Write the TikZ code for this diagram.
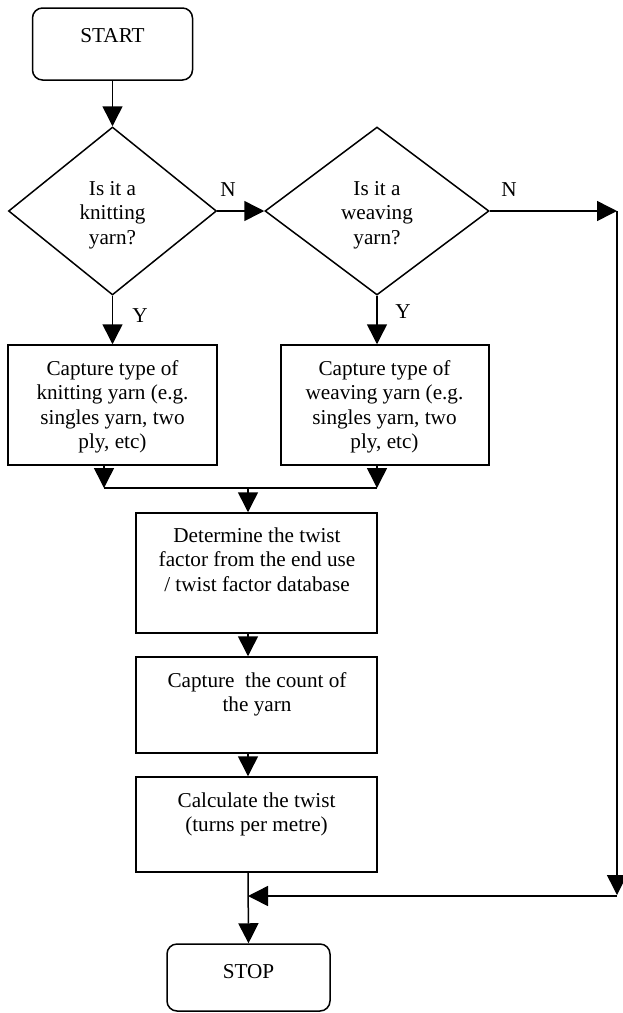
\documentclass[tikz,border=0pt]{standalone}
\usepackage{fontspec}
\setmainfont{Liberation Serif}
\usetikzlibrary{shapes.geometric,arrows.meta}
\newcommand\mltext[1]{\parbox[t]{400pt}{\centering #1}}
\begin{document}
\begin{tikzpicture}[x=1pt,y=-1pt,
  every node/.style={inner sep=0pt},
  shp/.style={draw, line width=1.5pt},
  term/.style={shp, rectangle, rounded corners=10pt},
  proc/.style={shp, rectangle},
  dec/.style={shp, diamond},
  txt/.style={anchor=base, font=\fontsize{21.2}{24.5}\selectfont},
  lab/.style={font=\fontsize{21.2}{24.5}\selectfont},
  con/.style={line width=1.5pt},
  arr/.style={con, -{Triangle[length=20pt,width=20pt]}}]
\useasboundingbox (0,0) rectangle (623,1013);

% shapes
\node[term, minimum width=160pt, minimum height=72pt] (start) at (112.5,44) {};
\node[dec, minimum width=208pt, minimum height=168pt] (d1) at (112.5,211) {};
\node[dec, minimum width=224pt, minimum height=168pt] (d2) at (377,211) {};
\node[proc, minimum width=209pt, minimum height=120pt] (b1) at (112.5,405) {};
\node[proc, minimum width=208pt, minimum height=120pt] (b2) at (385,405) {};
\node[proc, minimum width=241pt, minimum height=120pt] (b3) at (256.5,573) {};
\node[proc, minimum width=241pt, minimum height=96pt] (b4) at (256.5,705) {};
\node[proc, minimum width=241pt, minimum height=95pt] (b5) at (256.5,824.5) {};
\node[term, minimum width=163pt, minimum height=67pt] (stop) at (248.5,977.5) {};

% texts
\node[txt] (tstart) at (112.5,42) {START};
\node[txt] (td1) at (112.5,195) {\mltext{Is it a\\knitting\\yarn?}};
\node[txt] (td2) at (377,195) {\mltext{Is it a\\weaving\\yarn?}};
\node[txt] (tb1) at (112.5,375) {\mltext{Capture type of\\knitting yarn (e.g.\\singles yarn, two\\ply, etc)}};
\node[txt] (tb2) at (384.5,375) {\mltext{Capture type of\\weaving yarn (e.g.\\singles yarn, two\\ply, etc)}};
\node[txt] (tb3) at (257,542) {\mltext{Determine the twist\\factor from the end use\\/ twist factor database}};
\node[txt] (tb4) at (257,687) {\mltext{Capture~ the count of\\the yarn}};
\node[txt] (tb5) at (256.5,807) {\mltext{Calculate the twist\\(turns per metre)}};
\node[txt] (tstop) at (248.5,978) {STOP};

% labels
\node[lab] (n1) at (228,190) {N};
\node[lab] (n2) at (509,190) {N};
\node[lab] (y1) at (140,316) {Y};
\node[lab] (y2) at (403,312) {Y};

% junction coordinates
\coordinate (j1) at (104,488);
\coordinate (j2) at (377,488);
\coordinate (j) at (248,488);
\coordinate (r1) at (617,211);
\coordinate (r2) at (617,895);
\coordinate (m) at (248,896);

% connectors
\draw[arr] (start.south) -- (d1.north);
\draw[arr] (d1.east) -- (d2.west);
\draw[arr] (d2.east) -- (r1);
\draw[arr] (r1) -- (r2);
\draw[arr] (r2 |- m) -- (m);
\draw[arr] (d1.south) -- (b1.north);
\draw[arr] (d2.south) -- (d2.south |- b2.north);
\draw[arr] (j1 |- b1.south) -- (j1);
\draw[arr] (j2 |- b2.south) -- (j2);
\draw[con] (j1) -- (j2);
\draw[arr] (j) -- (j |- b3.north);
\draw[arr] (j |- b3.south) -- (j |- b4.north);
\draw[arr] (j |- b4.south) -- (j |- b5.north);
\draw[arr] (j |- b5.south) -- (stop.north);
\end{tikzpicture}
\end{document}
